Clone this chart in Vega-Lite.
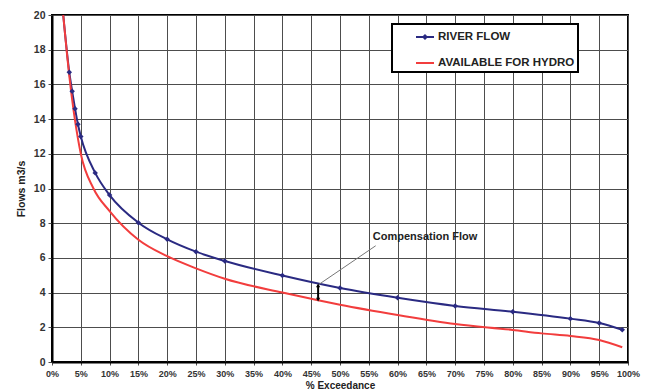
{
  "$schema": "https://vega.github.io/schema/vega-lite/v6.json",
  "width": 576,
  "height": 347,
  "autosize": "none",
  "padding": {"left": 52, "top": 15, "right": 21, "bottom": 30},
  "background": "white",
  "config": {
    "font": "Liberation Sans",
    "view": {"stroke": "black", "strokeWidth": 2},
    "axis": {
      "gridColor": "#4d4d4d",
      "gridWidth": 1,
      "gridOpacity": 1,
      "domainColor": "black",
      "domainWidth": 2,
      "tickColor": "#4d4d4d",
      "labelColor": "#333333",
      "titleColor": "#222222",
      "labelFontWeight": "bold",
      "titleFontWeight": "bold",
      "labelOverlap": false
    }
  },
  "datasets": {
    "flows": [
      {"pct": 1.95, "flow": 20.0, "series": "RIVER FLOW", "m": false},
      {"pct": 3, "flow": 16.7, "series": "RIVER FLOW", "m": true},
      {"pct": 3.5, "flow": 15.6, "series": "RIVER FLOW", "m": true},
      {"pct": 4, "flow": 14.6, "series": "RIVER FLOW", "m": true},
      {"pct": 4.5, "flow": 13.7, "series": "RIVER FLOW", "m": true},
      {"pct": 5, "flow": 13.0, "series": "RIVER FLOW", "m": true},
      {"pct": 7.5, "flow": 10.9, "series": "RIVER FLOW", "m": true},
      {"pct": 10, "flow": 9.62, "series": "RIVER FLOW", "m": true},
      {"pct": 15, "flow": 8.03, "series": "RIVER FLOW", "m": true},
      {"pct": 20, "flow": 7.07, "series": "RIVER FLOW", "m": true},
      {"pct": 25, "flow": 6.36, "series": "RIVER FLOW", "m": true},
      {"pct": 30, "flow": 5.82, "series": "RIVER FLOW", "m": true},
      {"pct": 40, "flow": 4.98, "series": "RIVER FLOW", "m": true},
      {"pct": 50, "flow": 4.26, "series": "RIVER FLOW", "m": true},
      {"pct": 60, "flow": 3.7, "series": "RIVER FLOW", "m": true},
      {"pct": 70, "flow": 3.23, "series": "RIVER FLOW", "m": true},
      {"pct": 80, "flow": 2.9, "series": "RIVER FLOW", "m": true},
      {"pct": 90, "flow": 2.5, "series": "RIVER FLOW", "m": true},
      {"pct": 95, "flow": 2.25, "series": "RIVER FLOW", "m": true},
      {"pct": 99, "flow": 1.86, "series": "RIVER FLOW", "m": true},
      {"pct": 1.95, "flow": 20.0, "series": "AVAILABLE FOR HYDRO", "m": false},
      {"pct": 3, "flow": 16.5, "series": "AVAILABLE FOR HYDRO", "m": false},
      {"pct": 5, "flow": 12.0, "series": "AVAILABLE FOR HYDRO", "m": false},
      {"pct": 7.2, "flow": 10.0, "series": "AVAILABLE FOR HYDRO", "m": false},
      {"pct": 10, "flow": 8.7, "series": "AVAILABLE FOR HYDRO", "m": false},
      {"pct": 15, "flow": 7.05, "series": "AVAILABLE FOR HYDRO", "m": false},
      {"pct": 20, "flow": 6.1, "series": "AVAILABLE FOR HYDRO", "m": false},
      {"pct": 25, "flow": 5.4, "series": "AVAILABLE FOR HYDRO", "m": false},
      {"pct": 30, "flow": 4.8, "series": "AVAILABLE FOR HYDRO", "m": false},
      {"pct": 40, "flow": 4.0, "series": "AVAILABLE FOR HYDRO", "m": false},
      {"pct": 46, "flow": 3.57, "series": "AVAILABLE FOR HYDRO", "m": false},
      {"pct": 50, "flow": 3.3, "series": "AVAILABLE FOR HYDRO", "m": false},
      {"pct": 60, "flow": 2.71, "series": "AVAILABLE FOR HYDRO", "m": false},
      {"pct": 70, "flow": 2.19, "series": "AVAILABLE FOR HYDRO", "m": false},
      {"pct": 80, "flow": 1.85, "series": "AVAILABLE FOR HYDRO", "m": false},
      {"pct": 85, "flow": 1.65, "series": "AVAILABLE FOR HYDRO", "m": false},
      {"pct": 90, "flow": 1.5, "series": "AVAILABLE FOR HYDRO", "m": false},
      {"pct": 95, "flow": 1.27, "series": "AVAILABLE FOR HYDRO", "m": false},
      {"pct": 99, "flow": 0.85, "series": "AVAILABLE FOR HYDRO", "m": false}
    ],
    "note": [
      {"pct": 55.7, "flow": 7.2, "label": "Compensation Flow"}
    ],
    "leader": [
      {"pct": 56.2, "flow": 6.7, "pct2": 46.2, "flow2": 4.44}
    ],
    "arrow": [
      {"pct": 46.2, "flow": 4.42, "flow2": 3.6}
    ]
  },
  "encoding": {
    "x": {
      "field": "pct", "type": "quantitative",
      "scale": {"domain": [0, 100], "nice": false},
      "axis": {
        "values": [0,5,10,15,20,25,30,35,40,45,50,55,60,65,70,75,80,85,90,95,100],
        "tickCount": 30,
        "labelExpr": "datum.value + '%'",
        "labelFontSize": 9,
        "tickSize": 3,
        "labelPadding": 4,
        "title": "% Exceedance",
        "titleFontSize": 10,
        "titlePadding": 2,
        "labelFlush": false,
        "labelOverlap": false
      }
    },
    "y": {
      "field": "flow", "type": "quantitative",
      "scale": {"domain": [0, 20], "nice": false},
      "axis": {
        "values": [0,2,4,6,8,10,12,14,16,18,20],
        "tickCount": 15,
        "labelFontSize": 10.5,
        "tickSize": 4,
        "labelPadding": 3,
        "title": "Flows m3/s",
        "titleFontSize": 10.5,
        "titlePadding": 7,
        "labelOverlap": false
      }
    }
  },
  "layer": [
    {
      "data": {"name": "flows"},
      "mark": {"type": "line", "interpolate": "monotone", "clip": true, "strokeWidth": 2},
      "encoding": {
        "color": {
          "field": "series", "type": "nominal",
          "scale": {"domain": ["RIVER FLOW", "AVAILABLE FOR HYDRO"], "range": ["#2a2a82", "#f23d3d"]},
          "legend": {
            "title": null,
            "orient": "none",
            "legendX": 340,
            "legendY": 9,
            "direction": "vertical",
            "fillColor": "white",
            "strokeColor": "black",
            "padding": 3,
            "symbolOffset": 20,
            "symbolType": "stroke",
            "symbolSize": 324,
            "symbolStrokeWidth": 2,
            "labelFontSize": 11.5,
            "labelFontWeight": "bold",
            "labelColor": "#222222",
            "labelOffset": 3,
            "rowPadding": 10,
            "labelLimit": 300,
            "encode": {
              "legend": {"update": {"strokeWidth": {"value": 2}}},
              "symbols": {"update": {"shape": [{"test": "datum.value === 'RIVER FLOW'", "value": "M-1,0H1M-0.18,0L0,-0.18L0.18,0L0,0.18Z"}, {"value": "stroke"}]}}
            }
          }
        },
        "detail": {"field": "series"}
      }
    },
    {
      "data": {"name": "flows"},
      "transform": [{"filter": "datum.m"}],
      "mark": {"type": "point", "shape": "diamond", "filled": true, "size": 30, "color": "#2a2a82", "opacity": 1}
    },
    {
      "data": {"name": "leader"},
      "mark": {"type": "rule", "color": "#777777", "strokeWidth": 1},
      "encoding": {
        "x2": {"field": "pct2"},
        "y2": {"field": "flow2"}
      }
    },
    {
      "data": {"name": "note"},
      "mark": {"type": "text", "align": "left", "baseline": "middle", "fontSize": 11, "fontWeight": "bold", "color": "#222222"},
      "encoding": {
        "text": {"field": "label"}
      }
    },
    {
      "data": {"name": "arrow"},
      "mark": {"type": "rule", "color": "black", "strokeWidth": 2},
      "encoding": {
        "y2": {"field": "flow2"}
      }
    },
    {
      "data": {"name": "arrow"},
      "mark": {"type": "point", "shape": "triangle-up", "filled": true, "size": 18, "color": "black", "opacity": 1}
    },
    {
      "data": {"name": "arrow"},
      "mark": {"type": "point", "shape": "triangle-down", "filled": true, "size": 18, "color": "black", "opacity": 1},
      "encoding": {
        "y": {"field": "flow2", "type": "quantitative"}
      }
    }
  ]
}
